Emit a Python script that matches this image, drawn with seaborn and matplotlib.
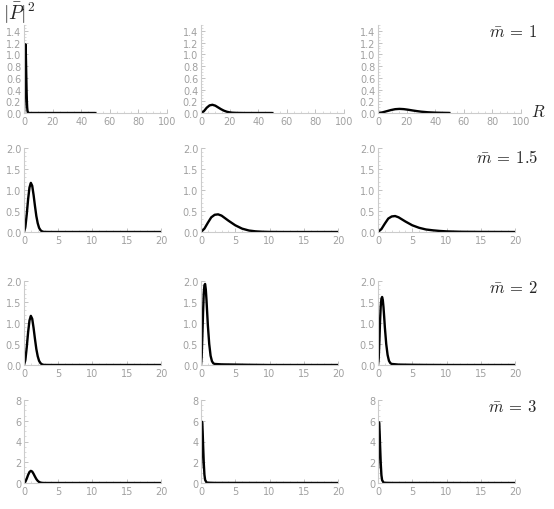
import numpy as np
import pandas as pd
import matplotlib
matplotlib.use("Agg")
import matplotlib.pyplot as plt
from matplotlib.ticker import MultipleLocator, FormatStrFormatter
import seaborn as sns

sns.set_theme(style="ticks")
plt.rcParams['font.family'] = ['DejaVu Sans']
plt.rcParams['mathtext.fontset'] = 'cm'

# values: R and |P|^2 for each panel
# first column (same curve in every row)
r_left = [0, 0.2, 0.4, 0.6, 0.8, 1.0, 1.2, 1.4, 1.6, 1.8, 2.0, 2.2, 2.4, 2.6, 2.8, 3.0, 4, 6, 10, 20]
p_left = [0, 0.12, 0.42, 0.78, 1.06, 1.17, 1.10, 0.88, 0.62, 0.38, 0.21, 0.10, 0.045, 0.018, 0.006, 0.002, 0, 0, 0, 0]
r_left_m1 = r_left[:-1] + [50]
p_left_m1 = p_left[:-1] + [0]

# m = 1
r_m1_b = [0, 2, 4, 6, 8, 10, 12, 14, 16, 18, 20, 22, 25, 30, 50]
p_m1_b = [0, 0.03, 0.09, 0.13, 0.14, 0.125, 0.095, 0.065, 0.04, 0.022, 0.011, 0.005, 0.002, 0.0, 0]
r_m1_c = [0, 3, 6, 9, 12, 15, 18, 21, 24, 27, 30, 35, 40, 45, 50]
p_m1_c = [0, 0.01, 0.03, 0.05, 0.065, 0.07, 0.066, 0.056, 0.044, 0.033, 0.023, 0.012, 0.006, 0.003, 0.001]

# m = 1.5
r_m15_b = [0, 0.5, 1, 1.5, 2, 2.5, 3, 3.5, 4, 5, 6, 7, 8, 9, 10, 12, 20]
p_m15_b = [0, 0.08, 0.22, 0.35, 0.41, 0.42, 0.39, 0.33, 0.27, 0.16, 0.08, 0.035, 0.015, 0.006, 0.002, 0, 0]
r_m15_c = [0, 0.5, 1, 1.5, 2, 2.5, 3, 3.5, 4, 5, 6, 7, 8, 9, 10, 12, 15, 20]
p_m15_c = [0, 0.07, 0.2, 0.32, 0.37, 0.38, 0.35, 0.3, 0.25, 0.16, 0.1, 0.06, 0.04, 0.025, 0.015, 0.006, 0.002, 0]

# m = 2
r_m2 = [0, 0.1, 0.2, 0.3, 0.4, 0.5, 0.6, 0.7, 0.8, 0.9, 1.0, 1.2, 1.4, 1.6, 1.8, 2, 3, 5, 7, 10, 20]
p_m2_b = [0, 0.2, 0.7, 1.25, 1.7, 1.9, 1.93, 1.8, 1.55, 1.25, 0.95, 0.5, 0.22, 0.09, 0.04, 0.025, 0.015, 0.01, 0.005, 0.0, 0]
p_m2_c = [0, 0.15, 0.55, 1.05, 1.4, 1.58, 1.62, 1.55, 1.38, 1.15, 0.9, 0.5, 0.24, 0.1, 0.045, 0.025, 0.01, 0.005, 0.002, 0, 0]

# m = 3
r_m3 = [0, 0.05, 0.1, 0.15, 0.2, 0.25, 0.3, 0.4, 0.5, 0.6, 0.8, 1, 2, 20]
p_m3_b = [1.4, 3.5, 5.3, 5.9, 5.6, 4.8, 3.8, 2.0, 0.8, 0.3, 0.06, 0.03, 0.01, 0]
p_m3_c = [1.4, 3.4, 5.2, 5.85, 5.5, 4.7, 3.7, 1.9, 0.75, 0.28, 0.05, 0.02, 0.005, 0]

rows = [
    ([(r_left_m1, p_left_m1), (r_m1_b, p_m1_b), (r_m1_c, p_m1_c)], 100, 20, 5, 1.5, 0.2, 0.05, '%.1f', r'$\bar{m}\:=\:1$'),
    ([(r_left, p_left), (r_m15_b, p_m15_b), (r_m15_c, p_m15_c)], 20, 5, 1, 2.0, 0.5, 0.1, '%.1f', r'$\bar{m}\:=\:1.5$'),
    ([(r_left, p_left), (r_m2, p_m2_b), (r_m2, p_m2_c)], 20, 5, 1, 2.0, 0.5, 0.1, '%.1f', r'$\bar{m}\:=\:2$'),
    ([(r_left, p_left), (r_m3, p_m3_b), (r_m3, p_m3_c)], 20, 5, 1, 8, 2, 0.5, '%d', r'$\bar{m}\:=\:3$'),
]

W, H = 554, 510
fig = plt.figure(figsize=(W / 100, H / 100), dpi=100)

col_left = [24, 201, 378]
row_box = [(26, 114), (149, 233), (282, 366), (401, 484)]
row_width = [143, 137, 137, 137]
label_y = [32, 158, 288, 407]
grey = '#a0a0a0'

for i, (panels, xmax, xmaj, xmin, ymax, ymaj, ymin, yfmt, lab) in enumerate(rows):
    top, bot = row_box[i]
    for j, (r, p) in enumerate(panels):
        ax = fig.add_axes([col_left[j] / W, 1 - bot / H, row_width[i] / W, (bot - top) / H])
        df = pd.DataFrame({'R': r, 'P': p})
        sns.lineplot(data=df, x='R', y='P', ax=ax, color='black', linewidth=1.7)
        ax.set_xlim(0, xmax)
        ax.set_ylim(0, ymax)
        ax.set_xlabel('')
        ax.set_ylabel('')
        ax.xaxis.set_major_locator(MultipleLocator(xmaj))
        ax.xaxis.set_minor_locator(MultipleLocator(xmin))
        ax.yaxis.set_major_locator(MultipleLocator(ymaj))
        ax.yaxis.set_minor_locator(MultipleLocator(ymin))
        ax.yaxis.set_major_formatter(FormatStrFormatter(yfmt))
        ax.xaxis.set_major_formatter(FormatStrFormatter('%d'))
        for s in ['top', 'right']:
            ax.spines[s].set_visible(False)
        for s in ['left', 'bottom']:
            ax.spines[s].set_color('#cccccc')
            ax.spines[s].set_linewidth(0.8)
        ax.tick_params(which='major', direction='in', length=3, width=0.6, color='#b8b8b8',
                       labelsize=7, labelcolor=grey, pad=2)
        ax.tick_params(which='minor', direction='in', length=1.5, width=0.5, color='#cccccc')
        ax.patch.set_alpha(0)
    fig.text(538 / W, 1 - label_y[i] / H, lab, ha='right', va='center', fontsize=12)

fig.text(3 / W, 1 - 13 / H, r'$|\bar{P}|^2$', ha='left', va='center', fontsize=14)
fig.text(531 / W, 1 - 112 / H, r'$R$', ha='left', va='center', fontsize=12)

fig.savefig('out.png', dpi=100)
